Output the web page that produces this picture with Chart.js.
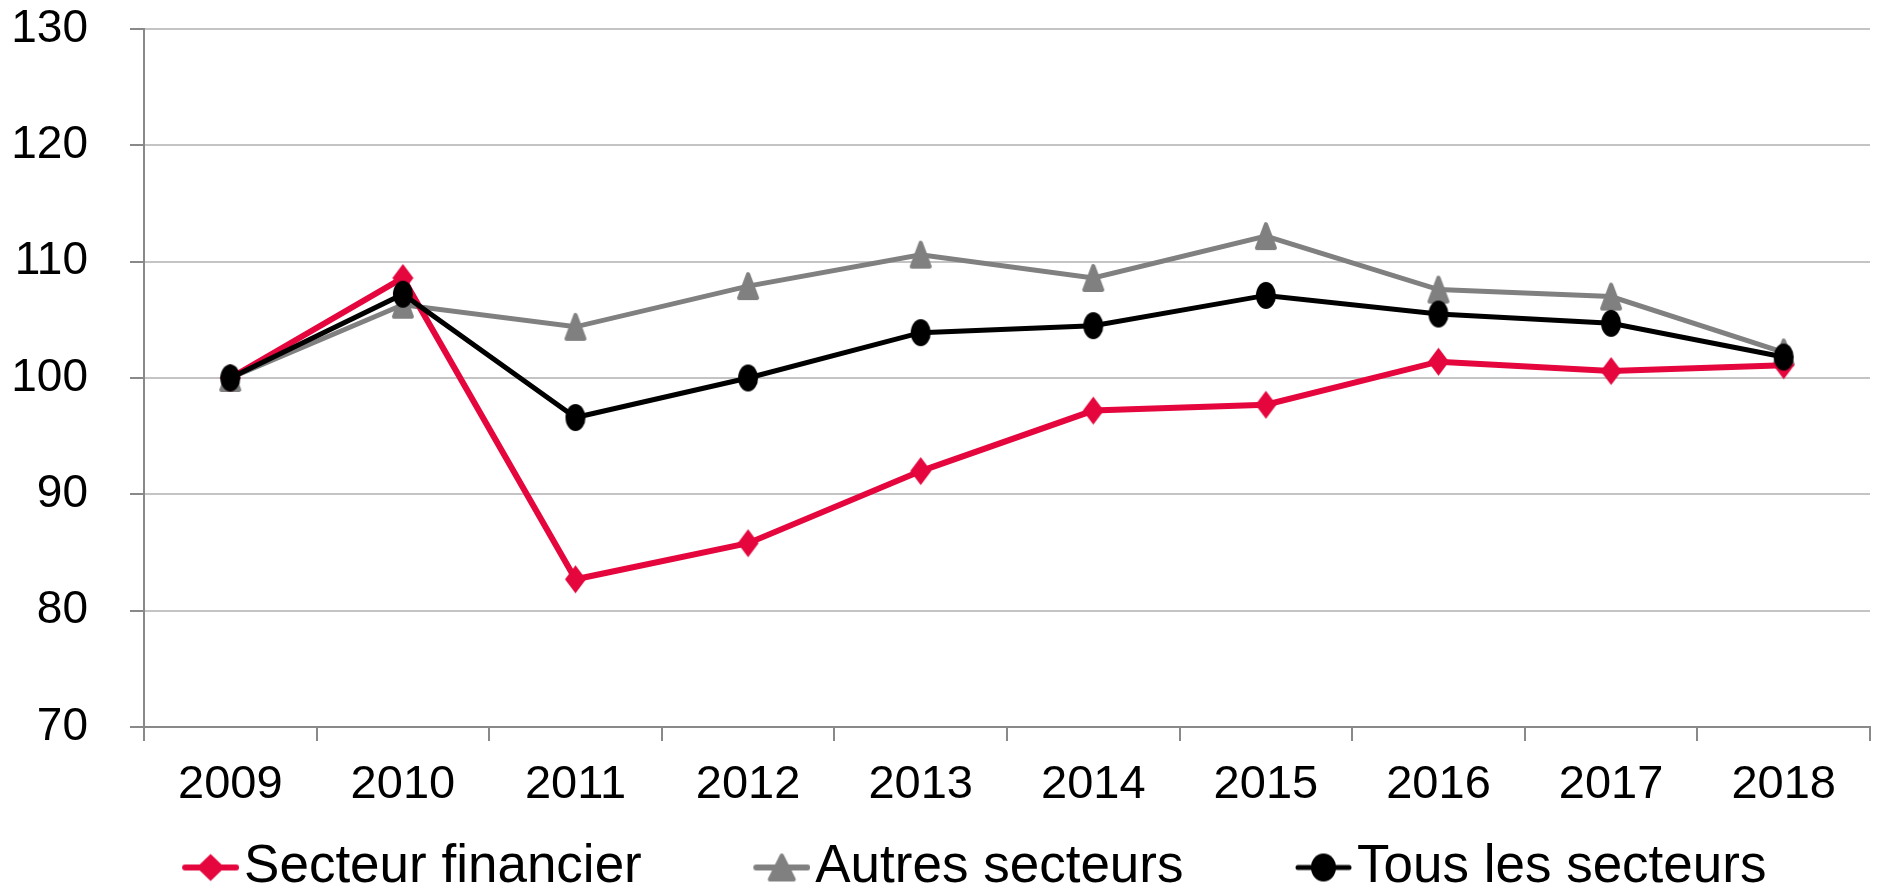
<!DOCTYPE html>
<html>
<head>
<meta charset="utf-8">
<script src="https://cdn.jsdelivr.net/npm/chart.js@4/dist/chart.umd.min.js"></script>
<style>
  html, body { margin: 0; padding: 0; background: #fff; overflow: hidden; }
  #wrap { width: 1881px; height: 904px; position: relative; }
</style>
</head>
<body>
<div id="wrap"><canvas id="myChart"></canvas></div>
<script>
const years = ['2009', '2010', '2011', '2012', '2013', '2014', '2015', '2016', '2017', '2018'];
const financier = [100, 108.6, 82.7, 85.8, 92.0, 97.2, 97.7, 101.4, 100.6, 101.1];
const autres = [100, 106.3, 104.4, 107.9, 110.6, 108.6, 112.2, 107.6, 107.0, 102.2];
const tous = [100, 107.2, 96.6, 100.0, 103.9, 104.5, 107.1, 105.5, 104.7, 101.8];
const yTicks = [70, 80, 90, 100, 110, 120, 130];

const RED = '#e4063d';
const GREY = '#808080';
const BLACK = '#000000';
const FONT = "'Liberation Sans', Arial, sans-serif";

// draws a marker shape of size w x h centred on (cx, cy)
function shape(g, kind, cx, cy, w, h) {
    g.beginPath();
    if (kind === 'diamond') {
        g.moveTo(cx, cy - h / 2);
        g.lineTo(cx + w / 2, cy);
        g.lineTo(cx, cy + h / 2);
        g.lineTo(cx - w / 2, cy);
        g.closePath();
    } else if (kind === 'triangle') {
        g.moveTo(cx, cy - h / 2 + 2);
        g.lineTo(cx + w / 2 - 2, cy + h / 2 - 2);
        g.lineTo(cx - w / 2 + 2, cy + h / 2 - 2);
        g.closePath();
    } else {
        g.ellipse(cx, cy, w / 2, h / 2, 0, 0, Math.PI * 2);
    }
    g.fill();
    if (kind === 'triangle') {
        g.lineJoin = 'round';
        g.lineWidth = 4;
        g.stroke();
    }
}

function makeMarker(color, kind, w, h) {
    const c = document.createElement('canvas');
    c.width = w + 2;
    c.height = h + 2;
    const g = c.getContext('2d');
    g.fillStyle = color;
    g.strokeStyle = color;
    shape(g, kind, c.width / 2, c.height / 2, w, h);
    return c;
}

// legend icon: short line with marker, kept at the right side of a wider canvas
const LEG_FONT = 53, LEG_PAD = 10, ICON_BOX = 137, LINE_LEN = 57;
const ICON_W = ICON_BOX + 2 * (LEG_FONT / 2 - 5), ICON_H = 32;
function makeIcon(color, kind, lineW, mw, mh) {
    const c = document.createElement('canvas');
    c.width = ICON_W;
    c.height = ICON_H;
    const g = c.getContext('2d');
    const cx = ICON_W - LINE_LEN / 2, cy = ICON_H / 2;
    g.strokeStyle = color;
    g.fillStyle = color;
    g.lineWidth = lineW;
    g.lineCap = 'round';
    g.beginPath();
    g.moveTo(ICON_W - LINE_LEN + 3, cy);
    g.lineTo(ICON_W - 3, cy);
    g.stroke();
    shape(g, kind, cx, cy, mw, mh);
    return c;
}

// nudge the legend box a little to the left
const legendShift = {
    id: 'legendShift',
    afterLayout(chart) {
        chart.legend.left -= 17;
        chart.legend.right -= 17;
    },
};

const data = {
    labels: years,
    datasets: [{
        label: 'Secteur financier',
        data: financier,
        borderColor: RED,
        backgroundColor: RED,
        borderWidth: 6,
        pointStyle: makeMarker(RED, 'diamond', 21, 28),
        order: 1,
        icon: makeIcon(RED, 'diamond', 6, 28, 27),
    }, {
        label: 'Autres secteurs',
        data: autres,
        borderColor: GREY,
        backgroundColor: GREY,
        borderWidth: 5,
        pointStyle: makeMarker(GREY, 'triangle', 22, 28),
        order: 2,
        icon: makeIcon(GREY, 'triangle', 6, 28, 28),
    }, {
        label: 'Tous les secteurs',
        data: tous,
        borderColor: BLACK,
        backgroundColor: BLACK,
        borderWidth: 5,
        pointStyle: makeMarker(BLACK, 'circle', 20, 27),
        order: 0,
        icon: makeIcon(BLACK, 'circle', 5, 25, 28),
    }],
};

const config = {
    type: 'line',
    data: data,
    plugins: [legendShift],
    options: {
        responsive: true,
        maintainAspectRatio: false,
        animation: false,
        layout: {
            autoPadding: false,
            padding: {left: 11, right: 11, top: 0, bottom: 0},
        },
        scales: {
            x: {
                offset: true,
                afterFit: function (axis) {
                    axis.height = 104;
                },
                grid: {
                    offset: true,
                    drawOnChartArea: false,
                    tickLength: 14,
                    tickColor: '#898989',
                    lineWidth: 2,
                },
                border: {color: '#898989', width: 2},
                ticks: {
                    color: '#000',
                    padding: 16,
                    maxRotation: 0,
                    font: {family: FONT, size: 47},
                },
            },
            y: {
                min: 70,
                max: 130,
                afterBuildTicks: function (axis) {
                    axis.ticks = yTicks.map(v => ({value: v}));
                },
                afterFit: function (axis) {
                    axis.width = 133;
                    axis.paddingTop = 29;
                    axis.paddingBottom = 0;
                },
                grid: {
                    color: '#c4c4c4',
                    tickColor: '#898989',
                    tickLength: 14,
                    lineWidth: 2,
                },
                border: {color: '#898989', width: 2},
                ticks: {
                    color: '#000',
                    padding: 42,
                    font: {family: FONT, size: 46},
                },
            },
        },
        plugins: {
            title: {display: false},
            tooltip: {enabled: false},
            legend: {
                position: 'bottom',
                labels: {
                    usePointStyle: true,
                    pointStyleWidth: ICON_BOX,
                    padding: LEG_PAD,
                    color: '#000',
                    font: {family: FONT, size: LEG_FONT},
                    generateLabels: function (chart) {
                        return chart.data.datasets.map((ds, i) => ({
                            text: ds.label,
                            fillStyle: ds.borderColor,
                            strokeStyle: ds.borderColor,
                            pointStyle: ds.icon,
                            lineWidth: 0,
                            hidden: false,
                            datasetIndex: i,
                            fontColor: '#000',
                        }));
                    },
                },
            },
        },
    },
};

const ctx = document.getElementById('myChart').getContext('2d');
const myChart = new Chart(ctx, config);
</script>
</body>
</html>
